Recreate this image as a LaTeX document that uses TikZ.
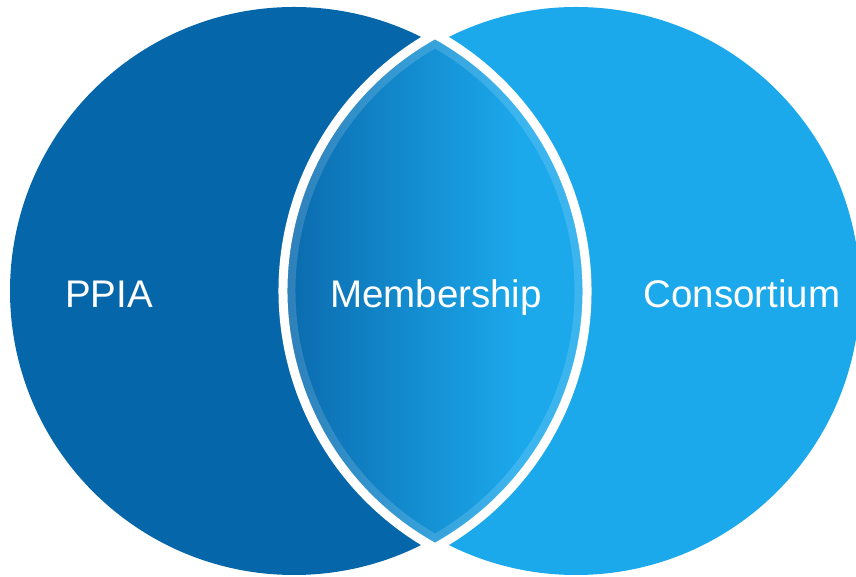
\documentclass[tikz,border=0pt]{standalone}
\usepackage{fontspec}
\setmainfont{Liberation Sans}
\definecolor{darkblue}{HTML}{0567AA}
\definecolor{lightblue}{HTML}{1BA9EC}
\definecolor{lensdark}{HTML}{0A69AC}
\tikzset{
  lbl/.style={text=white, font=\fontsize{38.5}{42}\selectfont, anchor=base, inner sep=0pt},
  lenspath/.style={line join=miter}
}
\begin{document}
\begin{tikzpicture}[x=1pt,y=1pt]
\useasboundingbox (0,0) rectangle (856,577);
\clip (0,0) rectangle (856,577);
\coordinate (cl) at (294,286);
\coordinate (cr) at (576,286);
\coordinate (vt) at (435,542.8);
\coordinate (vb) at (435,29.2);
\fill[darkblue] (cl) circle[radius=284];
\fill[lightblue] (cr) circle[radius=284];
\begin{scope}
  \clip (vt) arc[start angle=61.23, end angle=-61.23, radius=293]
             arc[start angle=241.23, end angle=118.77, radius=293] -- cycle;
  \fill[lightblue] (270,0) rectangle (600,577);
  \shade[left color=lensdark, right color=lightblue] (280,0) rectangle (520,577);
  \draw[white, opacity=0.15, line width=25]
    (vt) arc[start angle=61.23, end angle=-61.23, radius=293]
         arc[start angle=241.23, end angle=118.77, radius=293] -- cycle;
\end{scope}
\draw[white, line width=9, lenspath]
  (vt) arc[start angle=61.23, end angle=-61.23, radius=293]
       arc[start angle=241.23, end angle=118.77, radius=293] -- cycle;
\node[lbl] (ppia) at (109,269) {PPIA};
\node[lbl] (memb) at (436,269) {Membership};
\node[lbl] (cons) at (742,269) {Consortium};
\end{tikzpicture}
\end{document}
